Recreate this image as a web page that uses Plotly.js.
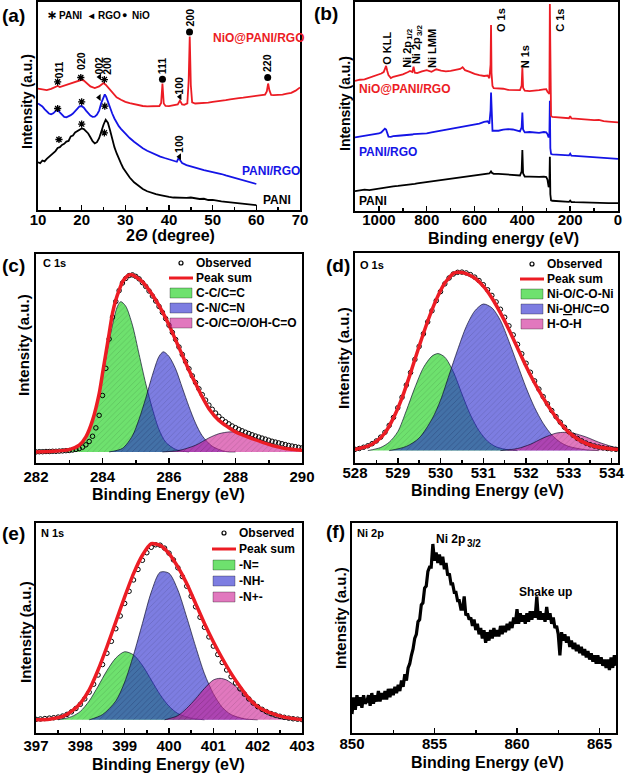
<!DOCTYPE html>
<html><head><meta charset="utf-8">
<script src="https://cdn.plot.ly/plotly-3.0.1.min.js"></script>
<style>html,body{margin:0;padding:0;background:#fff}#chart{width:625px;height:774px}</style>
</head><body><div id="chart"></div>
<script>
// ---------- (a) XRD ----------
const xrdX_PANI = [10,10.5,11,11.5,12,12.5,13,13.5,14,14.5,15,15.5,16,16.5,17,17.5,18,18.5,19,19.5,20,20.5,21,21.5,22,22.5,23,23.5,24,24.5,25,25.5,26,26.5,27,27.5,28,28.5,29,29.5,30,31,32,33,34,35,36,37,38,39,40,41,42,43,44,45,46,47,48,49,50,51,52,53,54,55,56,57,58,59,60];
const xrdY_PANI = [22.9,22.5,23.8,23.4,24.6,25.5,26.2,27.5,28.3,29.8,30.2,31.3,31.8,32.9,33.2,35.4,35.8,37.3,37.9,38.6,39.2,38.9,38.0,36.8,35.0,33.1,32.0,32.6,34.5,38.0,41.0,43.4,42.0,38.3,33.6,30.2,27.3,24.6,22.4,20.2,18.5,15.6,13.3,11.6,10.1,9.0,8.2,7.6,7.2,6.6,6.3,6.0,5.9,6.1,5.8,6.0,5.6,5.3,5.4,4.8,4.9,4.4,4.1,3.9,3.7,3.5,3.1,2.9,2.8,2.5,2.3];
const xrdX_PANIRGO = [10,10.5,11,11.5,12,12.5,13,13.5,14,14.5,15,15.5,16,16.5,17,17.5,18,18.5,19,19.5,20,20.5,21,21.5,22,22.5,23,23.5,24,24.5,25,25.3,25.6,26,26.5,27,27.5,28,28.5,29,29.5,30,31,32,33,34,35,36,37,38,39,40,41,41.8,42.2,42.6,43,44,45,46,47,48,49,50,51,52,53,54,55,56,57,58,59,60];
const xrdY_PANIRGO = [51.2,50.6,49.8,48.5,47.3,46.4,46.0,46.5,47.5,48.2,46.9,45.6,44.8,44.6,45.0,45.6,46.4,47.5,48.8,49.8,50.0,49.2,47.8,46.4,45.4,44.8,44.9,45.8,47.8,51.5,54.8,55.6,54.5,52.0,49.0,46.4,44.0,42.0,40.3,39.0,37.8,36.8,34.6,32.8,31.1,29.7,28.5,27.5,26.5,25.7,25.0,24.4,23.6,23.2,25.0,23.6,22.6,21.6,20.9,20.4,19.8,19.2,18.8,18.3,17.8,17.3,16.6,16.0,15.3,14.8,14.2,13.6,13.0,12.5];
const xrdX_NiO = [10,11,12,13,14,14.5,15,16,17,18,19,20,20.5,21,22,23,24,24.5,25,25.5,26,27,28,29,30,31,32,33,34,35,36,37,37.8,38.2,38.5,38.8,39.2,40,41,42,42.5,43,43.5,44.2,44.5,44.75,45.0,45.3,46,47,48,49,50,51,52,53,54,55,56,57,58,59,60,61,62,62.4,62.7,63.0,63.4,64,65,66,67,68,69,70];
const xrdY_NiO = [58.4,58.0,57.6,58.2,59.0,59.6,59.1,59.8,60.4,61.0,61.8,62.6,62.2,61.1,59.4,58.6,59.4,60.2,61.0,60.2,58.9,56.4,54.2,53.0,52.0,51.4,50.9,50.4,50.0,49.8,49.8,49.9,50.0,51.5,60.8,51.2,50.0,49.9,50.3,50.8,52.6,50.8,50.6,51.3,62.0,83.4,60.0,51.8,51.2,51.3,51.5,51.6,52.0,52.2,52.6,52.8,53.2,53.6,53.8,54.0,54.3,54.5,54.7,55.1,55.5,57.0,60.8,57.5,55.3,55.2,55.2,55.5,55.9,56.3,57.4,58.9];
const starX = [14.5,19.8,25.2,14.5,20.0,25.3,14.8,20.0,25.2];
const starY = [61.6,63.7,62.7,48.8,52.0,49.9,33.9,41.3,37.1];
const triX = [24.1,42.5,24.0,42.4];
const triY = [64.0,54.4,54.1,25.6];
const dotX = [38.5,44.7,62.6];
const dotY = [62.9,85.6,63.7];
const hklText = ['011','020','002','200','111','100','200','220','100'];
const hklX = [14.8,20.0,24.0,25.9,38.6,42.4,44.7,62.6,42.4];
const hklY = [67.5,71.5,69.5,69.5,69.5,60.0,92.3,70.5,32.0];

// ---------- (b) XPS survey ----------
const surveyBE = [1100,1080,1060,1040,1020,1000,990,980,975,970,965,960,950,940,920,900,880,870,860,855,850,840,820,800,780,760,740,720,700,680,660,650,640,620,600,580,560,545,538,533,531,529,525,520,500,480,460,440,420,410,403,400,397,390,370,350,330,310,300,295,290,287,285,283,280,275,260,240,220,205,200,195,180,160,140,120,100,80,60,40,20,0];
const surveyNiO = [62.2,62.8,63.0,63.8,64.4,65.1,65.8,66.5,68.5,69.4,67.0,65.0,63.6,64.2,64.8,65.4,66.4,67.0,66.5,69.0,66.2,66.0,66.8,67.4,66.6,67.8,67.2,66.8,67.0,67.6,68.0,68.8,67.4,66.6,65.6,65.0,64.6,64.8,63.5,70,89,66,59.8,58.8,58.7,58.5,58.0,57.9,57.8,57.8,60,68.6,59,57.6,57.4,57.5,57.8,58.2,58.3,57.0,55.9,56,99,60,45.6,45.0,44.8,44.6,44.6,44.4,45.4,44.3,44.2,44.0,43.8,43.6,43.5,43.6,43.0,42.8,42.6,42.4];
const surveyPANIRGO = [35.2,35.6,36.0,36.3,36.6,37.1,37.6,38.6,39.4,39.0,37.0,35.6,35.5,35.8,36.0,36.1,36.2,36.3,36.6,36.8,36.8,36.9,37.0,37.1,37.6,38.0,38.5,38.9,39.2,39.6,40.0,40.2,40.6,41.0,41.3,41.8,42.6,42.9,41.8,48,56.7,45,38.4,38.5,38.4,38.9,39.2,39.0,38.3,38.1,40,47.1,39,37.6,37.8,37.6,37.4,37.8,37.6,36.8,35.2,36,52.7,30,27.3,27.1,27.0,26.8,26.7,26.6,27.4,26.5,26.4,26.2,26.0,25.9,25.7,25.5,25.3,25.1,25.0,24.9];
const surveyPANI = [9.5,9.8,10.2,10.0,10.4,10.6,10.9,11.1,11.3,11.2,11.4,11.6,11.6,11.8,12.0,12.2,12.5,12.6,12.9,13.0,13.0,13.2,13.5,13.8,14.1,14.5,14.8,15.0,15.4,15.8,16.1,16.3,16.5,16.8,17.0,17.4,17.6,17.8,18.0,18.6,19.2,18.4,17.9,17.8,17.8,17.6,17.5,17.3,17.1,17.0,19,29.2,18,16.5,16.4,16.2,16.3,16.4,16.2,15.0,11.4,12,26,8,5.1,4.9,4.8,4.6,4.5,4.4,5.0,4.3,4.2,4.1,4.0,3.9,3.8,3.8,3.8,3.8,3.8,3.8];
const surveyPeakText = ['O KLL','Ni 2p','Ni 2p','Ni LMM','O 1s','N 1s','C 1s'];
const surveyPeakX = [967,883,842,778,490,389,240];
const surveyPeakY = [78,78,79.7,78,91.3,74,91.3];
const surveySubText = ['1/2','3/2'];
const surveySubX = [883,842];
const surveySubY = [78,79.7];

// ---------- (c) C 1s ----------
const c1sObsX = [282.0,282.1,282.2,282.3,282.4,282.5,282.6,282.7,282.8,282.9,283.0,283.1,283.2,283.3,283.4,283.5,283.6,283.7,283.8,283.9,284.0,284.1,284.2,284.3,284.4,284.5,284.6,284.7,284.8,284.9,285.0,285.1,285.2,285.3,285.4,285.5,285.6,285.7,285.8,285.9,286.0,286.1,286.2,286.3,286.4,286.5,286.6,286.7,286.8,286.9,287.0,287.1,287.2,287.3,287.4,287.5,287.6,287.7,287.8,287.9,288.0,288.1,288.2,288.3,288.4,288.5,288.6,288.7,288.8,288.9,289.0,289.1,289.2,289.3,289.4,289.5,289.6,289.7,289.8,289.9,290.0];
const c1sObsY = [0,0.1,0.1,0.2,0.2,0.3,0.3,0.4,0.5,0.6,0.7,0.9,1.2,1.6,2.3,3.4,5.0,7.5,11.5,17.5,27.0,40.0,54.0,64.5,72.0,77.2,80.8,83.0,84.4,84.7,84.0,82.8,81.0,79.2,77.0,74.6,72.2,69.6,66.8,63.8,60.6,57.2,53.8,50.2,46.6,43.2,39.8,36.4,33.2,30.2,27.4,24.8,22.4,20.4,18.6,17.0,15.6,14.4,13.4,12.4,11.6,10.8,10.1,9.4,8.8,8.2,7.6,7.1,6.6,6.1,5.6,5.1,4.7,4.3,3.9,3.5,3.1,2.8,2.5,2.2,1.9];
const c1sFitX = [282,282.5,283,283.3,283.5,283.7,283.9,284.0,284.1,284.2,284.3,284.4,284.5,284.6,284.7,284.8,284.9,285.0,285.2,285.4,285.6,285.8,286.0,286.2,286.4,286.6,286.8,287.0,287.2,287.5,288.0,288.5,289.0,289.5,290.0];
const c1sFitY = [0,0.3,1.1,3.2,7.2,15.1,27.9,37.5,47.1,56.7,66.3,72.7,77.4,81.4,83.5,84.7,84.7,83.8,81.4,77.4,72.7,67.1,60.7,53.5,46.3,39.1,32.7,26.3,20.7,15.1,9.6,6.4,3.6,1.6,0.8];
const c1sCCX = [282.5,283.0,283.3,283.5,283.7,283.9,284.1,284.3,284.45,284.55,284.7,284.9,285.1,285.3,285.5,285.7,285.9,286.2,286.6];
const c1sCCY = [0,0.7,3.2,6.7,14.7,26.7,44.7,60.7,69.7,71.9,69.7,60.7,46.7,32.7,20.7,10.7,4.7,1.2,0];
const c1sCNX = [284.2,284.6,284.9,285.1,285.3,285.5,285.7,285.83,286.0,286.2,286.4,286.6,286.8,287.0,287.3,287.7,288.0];
const c1sCNY = [0,1.7,7.7,15.7,25.7,36.7,45.7,47.9,45.7,39.7,30.7,21.7,13.7,7.7,2.7,0.2,0];
const c1sCOX = [285.8,286.3,286.8,287.2,287.5,287.85,288.2,288.6,289.0,289.5,290.0];
const c1sCOY = [0,0.7,3.2,6.7,8.7,9.6,9.0,6.7,4.2,1.7,0.5];

// ---------- (d) O 1s ----------
const o1sObsX = [528.0,528.1,528.2,528.3,528.4,528.5,528.6,528.7,528.8,528.9,529.0,529.1,529.2,529.3,529.4,529.5,529.6,529.7,529.8,529.9,530.0,530.1,530.2,530.3,530.4,530.5,530.6,530.7,530.8,530.9,531.0,531.1,531.2,531.3,531.4,531.5,531.6,531.7,531.8,531.9,532.0,532.1,532.2,532.3,532.4,532.5,532.6,532.7,532.8,532.9,533.0,533.1,533.2,533.3,533.4,533.5,533.6,533.7,533.8,533.9,534.0,534.1];
const o1sObsY = [0.6,1.0,1.6,2.3,3.3,4.6,6.4,8.7,12.0,15.8,20.4,25.4,31.2,37.2,43.4,49.6,55.6,61.3,66.6,71.4,75.7,79.4,82.2,84.1,84.9,85.0,84.6,83.8,82.6,81.0,79.0,76.6,73.9,70.8,67.3,63.5,59.4,55.1,50.6,46.1,41.6,37.3,33.2,29.3,25.7,22.3,19.1,16.2,13.5,11.1,9.0,7.3,5.8,4.6,3.6,2.8,2.2,1.7,1.3,1.0,0.8,0.6];
const o1sFitX = [528.0,528.3,528.5,528.7,528.9,529.1,529.3,529.5,529.7,529.9,530.1,530.3,530.4,530.6,530.8,531.0,531.2,531.4,531.6,531.8,532.0,532.2,532.4,532.6,532.8,533.0,533.3,533.6,534.0,534.15];
const o1sFitY = [0.5,2.1,4.4,8.4,15.6,25.1,37.0,49.7,61.6,71.9,79.8,84.3,84.9,84.3,82.2,78.3,72.7,65.6,57.6,48.9,40.2,32.2,25.1,18.7,13.2,8.7,4.4,2.1,0.8,0.5];
const o1sNiOX = [528.3,528.6,528.8,529.0,529.2,529.4,529.6,529.8,529.94,530.1,530.3,530.5,530.7,530.9,531.1,531.3,531.6,531.8];
const o1sNiOY = [0,1.5,4,9,19,30,39.5,45,46.2,44.5,37.5,27,17,9.5,4.5,1.8,0.3,0];
const o1sNiOHX = [528.8,529.2,529.5,529.8,530.0,530.2,530.4,530.6,530.8,531.0,531.2,531.4,531.6,531.8,532.0,532.2,532.4,532.6,532.8,533.0,533.4,533.7];
const o1sNiOHY = [0,2,6,15,24,36,48,59,66.5,69.8,68,62,52,41,30,20.5,13,7.5,4,2,0.4,0];
const o1sHOHX = [531.4,531.8,532.1,532.4,532.7,532.9,533.1,533.4,533.7,534.0,534.15];
const o1sHOHY = [0,1,3,6,8.3,8.7,8.3,6.5,4,2,1.3];

// ---------- (e) N 1s ----------
const n1sObsX = [397.0,397.1,397.2,397.3,397.4,397.5,397.6,397.7,397.8,397.9,398.0,398.1,398.2,398.3,398.4,398.5,398.6,398.7,398.8,398.9,399.0,399.1,399.2,399.3,399.4,399.5,399.6,399.7,399.8,399.9,400.0,400.1,400.2,400.3,400.4,400.5,400.6,400.7,400.8,400.9,401.0,401.1,401.2,401.3,401.4,401.5,401.6,401.7,401.8,401.9,402.0,402.1,402.2,402.3,402.4,402.5,402.6,402.7,402.8,402.9,403.0];
const n1sObsY = [0.2,0.4,0.6,0.8,1.0,1.3,1.8,2.6,3.8,5.4,7.4,10.0,13.2,17.0,21.4,26.4,31.8,37.5,43.5,49.6,55.6,61.4,66.8,71.8,76.2,79.8,82.4,83.6,83.4,82.0,79.6,76.4,72.6,68.4,63.8,59.0,54.0,49.0,44.2,39.6,35.2,31.2,27.4,23.8,20.6,17.6,14.8,12.3,10.0,8.0,6.3,5.0,3.9,3.0,2.3,1.7,1.2,0.8,0.5,0.3,0.1];
const n1sFitX = [397.0,397.3,397.6,397.8,398.0,398.2,398.4,398.6,398.8,399.0,399.2,399.4,399.6,399.8,400.0,400.2,400.4,400.6,400.8,401.0,401.2,401.4,401.6,401.8,402.0,402.3,402.6,403.0];
const n1sFitY = [0,0.3,1.6,4.0,7.9,14.3,23.8,34.9,46.8,58.7,69.8,78.6,84.1,83.3,79.4,73.0,65.1,55.6,46.0,37.3,29.4,22.2,15.9,10.3,6.3,3.2,1.3,0];
const n1sNX = [397.5,397.8,398.0,398.2,398.4,398.6,398.8,399.0,399.2,399.4,399.6,399.8,400.0,400.2,400.5,400.8];
const n1sNY = [0,1.5,4,9,16,23.5,29.5,32.5,31,26,19,12,6.5,3,0.8,0];
const n1sNHX = [398.2,398.5,398.8,399.0,399.2,399.4,399.6,399.8,400.0,400.2,400.4,400.6,400.8,401.0,401.2,401.4,401.7,402.0];
const n1sNHY = [0,2.5,9,18,31,46,61,70.5,70,62,49,35,22,12.5,6,2.5,0.5,0];
const n1sNpX = [399.9,400.2,400.4,400.6,400.8,401.0,401.15,401.3,401.5,401.7,401.9,402.1,402.3,402.6,402.8];
const n1sNpY = [0,2,5.5,10,15,19,19.8,19,16,12,7.5,4,1.8,0.3,0];

// ---------- (f) Ni 2p ----------
const ni2pBE = [850.0,850.1,850.2,850.3,850.4,850.5,850.6,850.7,850.8,850.9,851.0,851.1,851.2,851.3,851.4,851.5,851.6,851.7,851.8,851.9,852.0,852.1,852.2,852.3,852.4,852.5,852.6,852.7,852.8,852.9,853.0,853.1,853.2,853.3,853.4,853.5,853.6,853.7,853.8,853.9,854.0,854.1,854.2,854.3,854.4,854.5,854.6,854.7,854.8,854.9,855.0,855.1,855.2,855.3,855.4,855.5,855.6,855.7,855.8,855.9,856.0,856.1,856.2,856.3,856.4,856.5,856.6,856.7,856.8,856.9,857.0,857.1,857.2,857.3,857.4,857.5,857.6,857.7,857.8,857.9,858.0,858.1,858.2,858.3,858.4,858.5,858.6,858.7,858.8,858.9,859.0,859.1,859.2,859.3,859.4,859.5,859.6,859.7,859.8,859.9,860.0,860.1,860.2,860.3,860.4,860.5,860.6,860.7,860.8,860.9,861.0,861.1,861.2,861.3,861.4,861.5,861.6,861.7,861.8,861.9,862.0,862.1,862.2,862.3,862.4,862.5,862.6,862.7,862.8,862.9,863.0,863.1,863.2,863.3,863.4,863.5,863.6,863.7,863.8,863.9,864.0,864.1,864.2,864.3,864.4,864.5,864.6,864.7,864.8,864.9,865.0,865.1,865.2,865.3,865.4,865.5,865.6,865.7,865.8,865.9,866.0];
const ni2pInt = [9,17,11,18,13,17,12,18,14,15,18,13,19,14,18,15,20,15,19,16,20,16,21,17,21,18,22,19,23,20,25,22,28,25,31,33,37,40,45,47,53,54,61,62,69,70,77,79,79,90,82,86,81,85,80,84,78,81,75,76,71,71,67,67,63,63,59,59,65,56,57,54,55,51,54,49,52,47,50,45,49,43,48,44,49,45,50,46,49,46,51,47,51,48,52,49,53,50,55,52,59,52,57,53,56,52,57,53,58,54,58,55,65,54,58,54,57,53,60,54,57,52,55,50,51,47,37,48,44,47,43,46,41,44,40,43,39,42,38,41,37,40,36,39,35,38,34,37,33,37,33,36,32,35,31,35,30,36,31,37,32];

// ---------- styling / layout ----------
const W = 625, H = 774;
const FONT = 'Liberation Sans, Arial, Helvetica, sans-serif';
const px = v => v / W, py = v => 1 - v / H;
const BOLD = (size, color) => ({family: FONT, size: size, weight: 'bold', color: color || '#000'});

function xaxis(l, r, range, dtick, mdtick, anchor, standoff) {
  return {domain: [px(l), px(r)], range: range, dtick: dtick, tick0: 0, ticks: 'inside', ticklen: 5, tickwidth: 1.5, tickcolor: '#000',
    minor: {ticks: 'inside', ticklen: 3, dtick: mdtick, tick0: 0, tickwidth: 1.5, tickcolor: '#000', showgrid: false},
    showline: true, mirror: true, linewidth: 2, linecolor: '#000', showgrid: false, zeroline: false,
    tickfont: BOLD(15), anchor: anchor, fixedrange: true, ticklabelstandoff: standoff, ticklabeloverflow: 'allow'};
}
function yaxis(t, b, range, anchor) {
  return {domain: [py(b), py(t)], range: range, showticklabels: false, ticks: '', showline: true, mirror: true,
    linewidth: 2, linecolor: '#000', showgrid: false, zeroline: false, anchor: anchor, fixedrange: true};
}

const GREEN = 'rgba(13,205,13,0.6)', BLUE = 'rgba(38,38,205,0.6)', PINK = 'rgba(205,30,147,0.6)';
const RED = 'rgb(236,28,36)', BLUELINE = 'rgb(20,20,230)';
function comp(x, y, color, xa, ya) {
  return {type: 'scatter', mode: 'lines', x: x, y: y, xaxis: xa, yaxis: ya, fill: 'tozeroy', fillcolor: color,
    fillpattern: {shape: '/', size: 4, solidity: 0.15, fgcolor: 'rgba(0,0,0,0.18)', bgcolor: color},
    line: {color: 'rgba(10,10,40,0.85)', width: 0.8, shape: 'spline', smoothing: 0.8}, showlegend: false, hoverinfo: 'skip'};
}
function obs(x, y, xa, ya) {
  return {type: 'scatter', mode: 'markers', x: x, y: y, xaxis: xa, yaxis: ya, showlegend: false,
    marker: {symbol: 'circle-open', size: 4.5, color: '#000', line: {width: 1, color: '#000'}}};
}
function fit(x, y, xa, ya) {
  return {type: 'scatter', mode: 'lines', x: x, y: y, xaxis: xa, yaxis: ya, showlegend: false,
    line: {color: RED, width: 3.5, shape: 'spline', smoothing: 0.6}};
}
function line(x, y, color, xa, ya, w) {
  return {type: 'scatter', mode: 'lines', x: x, y: y, xaxis: xa, yaxis: ya, showlegend: false,
    line: {color: color, width: w || 1.6}};
}

const traces = [
  // (a)
  line(xrdX_PANI, xrdY_PANI, '#000', 'x', 'y', 1.8),
  line(xrdX_PANIRGO, xrdY_PANIRGO, BLUELINE, 'x', 'y', 1.8),
  line(xrdX_NiO, xrdY_NiO, RED, 'x', 'y', 1.8),
  {type: 'scatter', mode: 'markers', x: starX, y: starY, xaxis: 'x', yaxis: 'y', showlegend: false,
    marker: {symbol: 'asterisk-open', size: 6, color: '#000', line: {width: 1.3, color: '#000'}}},
  {type: 'scatter', mode: 'markers', x: triX, y: triY, xaxis: 'x', yaxis: 'y', showlegend: false,
    marker: {symbol: 'triangle-left', size: 6, color: '#000'}},
  {type: 'scatter', mode: 'markers', x: dotX, y: dotY, xaxis: 'x', yaxis: 'y', showlegend: false,
    marker: {symbol: 'circle', size: 7, color: '#000'}},
  // (b)
  line(surveyBE, surveyPANI, '#000', 'x2', 'y2', 1.8),
  line(surveyBE, surveyPANIRGO, BLUELINE, 'x2', 'y2', 1.8),
  line(surveyBE, surveyNiO, RED, 'x2', 'y2', 1.8),
  // (c)
  comp(c1sCCX, c1sCCY, GREEN, 'x3', 'y3'),
  comp(c1sCNX, c1sCNY, BLUE, 'x3', 'y3'),
  comp(c1sCOX, c1sCOY, PINK, 'x3', 'y3'),
  obs(c1sObsX, c1sObsY, 'x3', 'y3'),
  fit(c1sFitX, c1sFitY, 'x3', 'y3'),
  // (d)
  comp(o1sNiOX, o1sNiOY, GREEN, 'x4', 'y4'),
  comp(o1sNiOHX, o1sNiOHY, BLUE, 'x4', 'y4'),
  comp(o1sHOHX, o1sHOHY, PINK, 'x4', 'y4'),
  obs(o1sObsX, o1sObsY, 'x4', 'y4'),
  fit(o1sFitX, o1sFitY, 'x4', 'y4'),
  // (e)
  comp(n1sNX, n1sNY, GREEN, 'x5', 'y5'),
  comp(n1sNHX, n1sNHY, BLUE, 'x5', 'y5'),
  comp(n1sNpX, n1sNpY, PINK, 'x5', 'y5'),
  obs(n1sObsX, n1sObsY, 'x5', 'y5'),
  fit(n1sFitX, n1sFitY, 'x5', 'y5'),
  // (f)
  line(ni2pBE, ni2pInt, '#000', 'x6', 'y6', 3.2)
];

const annotations = [];
function pa(text, x, y, font, opt) {
  annotations.push(Object.assign({text: text, x: px(x), y: py(y), xref: 'paper', yref: 'paper', showarrow: false,
    font: font, xanchor: 'center', yanchor: 'middle'}, opt || {}));
}
// panel tags
pa('(a)', 0, 15, BOLD(19), {xanchor: 'left'});
pa('(b)', 312, 14, BOLD(19), {xanchor: 'left'});
pa('(c)', 0, 265, BOLD(19), {xanchor: 'left'});
pa('(d)', 324, 265, BOLD(19), {xanchor: 'left'});
pa('(e)', 0, 533, BOLD(19), {xanchor: 'left'});
pa('(f)', 324, 531, BOLD(19), {xanchor: 'left'});
// y titles
pa('Intensity (a.u.)', 27, 102, BOLD(14), {textangle: -90});
pa('Intensity (a.u.)', 345, 104, BOLD(14), {textangle: -90});
pa('Intensity (a.u.)', 23, 345, BOLD(15), {textangle: -90});
pa('Intensity (a.u.)', 343, 358, BOLD(15), {textangle: -90});
pa('Intensity (a.u.)', 25, 632, BOLD(15), {textangle: -90});
pa('Intensity (a.u.)', 340, 618, BOLD(15), {textangle: -90});
// x titles
pa('2<i>Θ</i> (degree)', 170, 235, BOLD(16));
pa('Binding energy (eV)', 503, 238, BOLD(16));
pa('Binding Energy (eV)', 168, 494, BOLD(16));
pa('Binding Energy (eV)', 487, 490, BOLD(16));
pa('Binding Energy (eV)', 169, 764, BOLD(16));
pa('Binding Energy (eV)', 487, 762, BOLD(16));
// (a) symbol key and series names
pa('∗', 52, 15, BOLD(12));
pa('PANI', 57, 15, BOLD(10), {xanchor: 'left'});
pa('◂', 91, 15, BOLD(10));
pa('RGO', 96, 15, BOLD(10), {xanchor: 'left'});
pa('●', 124, 15, BOLD(9));
pa('NiO', 130, 15, BOLD(10), {xanchor: 'left'});
pa('NiO@PANI/RGO', 258, 38, BOLD(12, RED));
pa('PANI/RGO', 271, 171, BOLD(12, BLUELINE));
pa('PANI', 277, 200, BOLD(12));
for (let i = 0; i < hklText.length; i++) {
  annotations.push({text: hklText[i], x: hklX[i], y: hklY[i], xref: 'x', yref: 'y', showarrow: false, textangle: -90,
    font: BOLD(10.5), xanchor: 'center', yanchor: 'middle'});
}
// (b) labels (main text, then the lowered sub-labels of the Ni 2p doublet)
for (let i = 0; i < surveyPeakText.length; i++) {
  const isNi2p = surveyPeakText[i] === 'Ni 2p';
  annotations.push({text: surveyPeakText[i], x: surveyPeakX[i], y: surveyPeakY[i], xref: 'x2', yref: 'y2', showarrow: false,
    textangle: -90, font: BOLD(11), xanchor: 'center', yanchor: 'middle', yshift: isNi2p ? -6 : 0});
}
for (let i = 0; i < surveySubText.length; i++) {
  annotations.push({text: surveySubText[i], x: surveySubX[i], y: surveySubY[i], xref: 'x2', yref: 'y2', showarrow: false,
    textangle: -90, font: BOLD(8), xanchor: 'center', yanchor: 'middle', yshift: 14, xshift: 3});
}
pa('NiO@PANI/RGO', 357, 89, BOLD(12, RED), {xanchor: 'left'});
pa('PANI/RGO', 357, 152, BOLD(12, BLUELINE), {xanchor: 'left'});
pa('PANI', 357, 201, BOLD(12), {xanchor: 'left'});
// panel element names
pa('C 1s', 41, 263, BOLD(11), {xanchor: 'left'});
pa('O 1s', 358, 265, BOLD(11), {xanchor: 'left'});
pa('N 1s', 39, 533, BOLD(11), {xanchor: 'left'});
pa('Ni 2p', 355, 533, BOLD(11), {xanchor: 'left'});
pa('Ni 2p', 434, 539, BOLD(12), {xanchor: 'left'});
pa('3/2', 465, 543, BOLD(10), {xanchor: 'left'});
pa('Shake up', 517, 592, BOLD(12), {xanchor: 'left'});

// hand-drawn legends for (c), (d), (e)
const shapes = [];
function legendBlock(bx, tx, rows, labels) {
  shapes.push({type: 'circle', xref: 'paper', yref: 'paper', x0: px(bx + 9), x1: px(bx + 13), y0: py(rows[0] + 2), y1: py(rows[0] - 2),
    line: {color: '#000', width: 1.2}});
  shapes.push({type: 'line', xref: 'paper', yref: 'paper', x0: px(bx - 1), x1: px(bx + 23), y0: py(rows[1]), y1: py(rows[1]),
    line: {color: RED, width: 3}});
  [GREEN, BLUE, PINK].forEach((c, i) => {
    shapes.push({type: 'rect', xref: 'paper', yref: 'paper', x0: px(bx), x1: px(bx + 22), y0: py(rows[i + 2] + 5), y1: py(rows[i + 2] - 5),
      fillcolor: c, line: {color: 'rgba(0,0,0,0.5)', width: 0.6}});
  });
  labels.forEach((t, i) => pa(t, tx, rows[i], BOLD(12), {xanchor: 'left'}));
}
legendBlock(170, 194, [263, 278, 293, 308, 323], ['Observed', 'Peak sum', 'C-C/C=C', 'C-N/C=N', 'C-O/C=O/OH-C=O']);
legendBlock(521, 545, [264, 279, 294, 309, 324], ['Observed', 'Peak sum', 'Ni-O/C-O-Ni', 'Ni-<u>O</u>H/C=O', 'H-O-H']);
legendBlock(213, 237, [533, 549, 565, 581, 597], ['Observed', 'Peak sum', '-N=', '-NH-', '-N+-']);

const layout = {
  width: W, height: H, margin: {l: 0, r: 0, t: 0, b: 0}, paper_bgcolor: '#fff', plot_bgcolor: 'rgba(0,0,0,0)',
  showlegend: false, font: {family: FONT},
  xaxis: xaxis(38, 300, [10, 70], 10, 5, 'y', -5),
  yaxis: yaxis(2, 210, [0, 100], 'x'),
  xaxis2: xaxis(355, 618, [1100, 0], 200, 100, 'y2', -6),
  yaxis2: yaxis(2, 211, [0, 100], 'x2'),
  xaxis3: xaxis(36, 302, [282, 290], 2, 1, 'y3', -1),
  yaxis3: yaxis(254, 463, [-5.3, 94.7], 'x3'),
  xaxis4: xaxis(355, 618, [528, 534.15], 1, 0.5, 'y4', -5),
  yaxis4: yaxis(253, 463, [-5.9, 94.1], 'x4'),
  xaxis5: xaxis(36, 302, [397, 403], 1, 0.5, 'y5', -2),
  yaxis5: yaxis(523, 733, [-6.3, 94], 'x5'),
  xaxis6: xaxis(352, 616, [850, 866], 5, 2.5, 'y6', -4),
  yaxis6: yaxis(523, 733, [0, 100], 'x6'),
  annotations: annotations,
  shapes: shapes
};
Plotly.newPlot('chart', traces, layout, {displayModeBar: false, staticPlot: true});
</script></body></html>
